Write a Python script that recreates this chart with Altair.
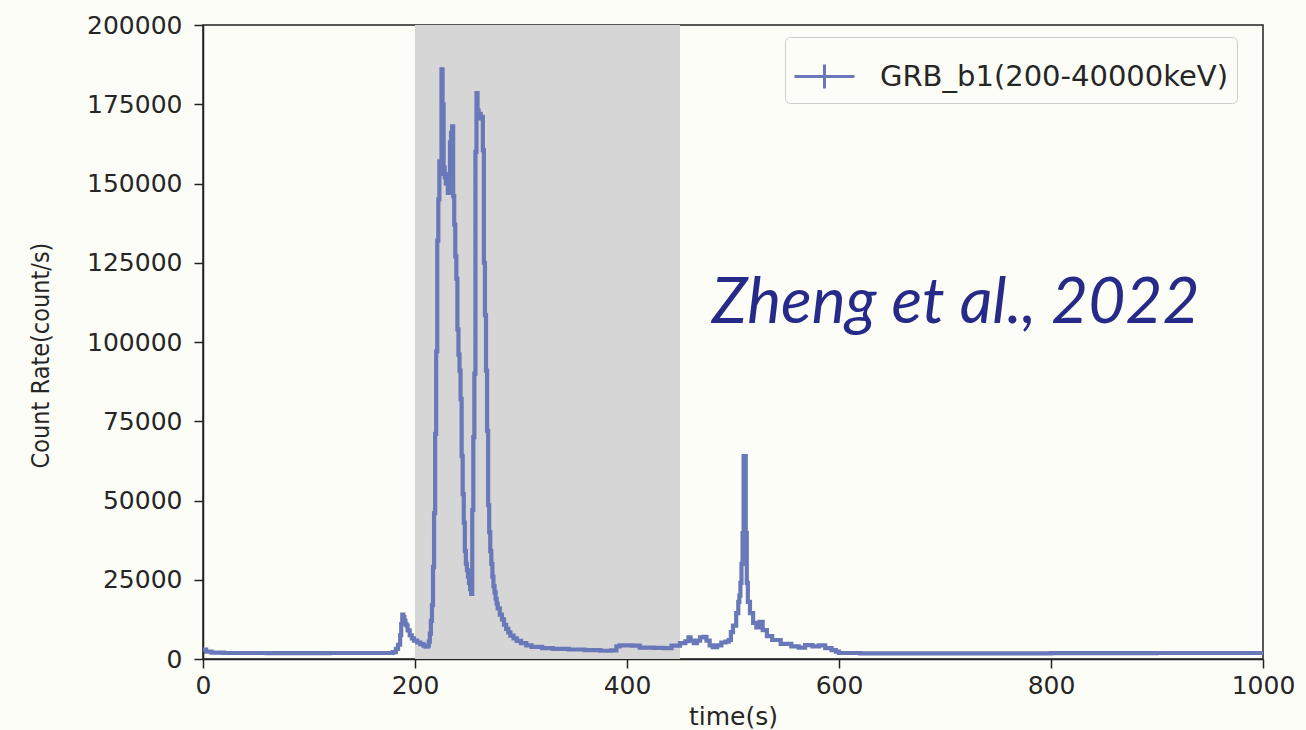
import altair as alt
import pandas as pd

# ---- data ----
times = [0, 3, 8, 20, 60, 120, 175, 179, 182, 184, 186, 187, 188, 189, 190, 191, 192, 193, 195, 197, 199,
         202, 205, 208, 210, 212, 213, 214, 215, 216, 217, 218, 219, 220, 221, 222, 223, 224, 225, 226,
         227, 228, 229, 230, 231, 232, 233, 234, 235, 236, 237, 238, 239, 240, 241, 242, 243, 244, 245,
         246, 247, 248, 249, 250, 251, 252, 253, 254, 255, 256, 257, 258, 259, 260, 261, 262, 263, 264,
         265, 266, 267, 268, 269, 270, 271, 272, 273, 274, 275, 276, 277, 278, 280, 282, 284, 286, 288,
         290, 293, 296, 300, 305, 310, 320, 330, 345, 360, 375, 385, 390, 393, 405, 412, 425, 435, 442,
         450, 455, 458, 460, 463, 466, 469, 472, 475, 478, 481, 485, 489, 493, 496, 498, 500, 503, 505,
         506, 507, 508, 509, 510, 512, 513, 514, 516, 519, 522, 525, 528, 532, 537, 545, 555, 562, 568,
         575, 581, 587, 593, 597, 600, 620, 700, 800, 900, 1000]
rates = [3000, 2300, 2000, 1900, 1850, 1900, 1900, 2200, 3200, 4500, 7500, 11000, 14000, 13200, 12000,
         11000, 10500, 9000, 7500, 6500, 5800,
         5200, 4700, 4200, 3900, 4200, 5500, 8000, 12000, 17000, 29000, 46000, 71000, 97000, 132000,
         145000, 157000, 153000, 186000, 175000,
         155000, 152000, 150000, 153000, 147000, 152000, 163000, 166000, 168000, 146000, 137000, 127000,
         120000, 104000, 96000, 91000, 82000, 64000, 52000,
         43000, 34000, 30000, 28000, 26000, 24000, 22000, 20500, 47000, 70000, 90000, 160000, 178500,
         173000, 171500, 172000, 170500, 171000, 160500,
         125000, 108500, 91000, 72000, 48500, 40000, 34000, 30000, 26000, 23000, 21000, 19000, 17500,
         16000, 14000, 12500, 10800, 9500, 8400,
         7400, 6500, 5700, 5000, 4300, 3800, 3400, 3200, 3000, 2800, 2600, 2700, 4000, 4300, 4200, 3600,
         3500, 3400, 4200,
         5000, 5600, 6800, 5800, 5000, 5800, 6800, 7000, 5800, 4300, 3700, 4300, 5200, 5500, 6000, 8500,
         10500, 14500, 18000,
         20000, 24000, 30000, 39700, 64000, 39700, 24000, 18000, 14500, 11400, 10000, 11700, 9100, 7200,
         6000, 4800, 4000, 3600, 4400,
         4000, 4300, 3400, 2800, 2300, 1900, 1800, 1800, 1850, 1900, 1900]
series_name = "GRB_b1(200-40000keV)"
shade_start = [200]
shade_end = [450]
note_text = ["Zheng et al., 2022"]
note_t = [480]
note_rate = [106000]
x_ticks = [0, 200, 400, 600, 800, 1000]
y_ticks = [0, 25000, 50000, 75000, 100000, 125000, 150000, 175000, 200000]

line_color = "#6878B8"
bg = "#FDFDF7"

df = pd.DataFrame({"t": times, "rate": rates, "series": [series_name] * len(times)})
shade_df = pd.DataFrame({"x0": shade_start, "x1": shade_end})
note_df = pd.DataFrame({"t": note_t, "rate": note_rate, "label": note_text})

xscale = alt.Scale(domain=[0, 1000], nice=False, zero=False)
yscale = alt.Scale(domain=[0, 200000], nice=False)

shade = alt.Chart(shade_df).mark_rect(color="#D6D6D6").encode(
    x=alt.X("x0:Q", scale=xscale),
    x2="x1:Q",
    y=alt.value(0),
    y2=alt.value(634),
)

line = alt.Chart(df).mark_line(interpolate="step-after", strokeWidth=4.2, clip=True).encode(
    x=alt.X("t:Q", scale=xscale,
            axis=alt.Axis(values=x_ticks, title="time(s)", format="d", labelPadding=5,
                          labelFlush=False,
                          titleFontSize=25, titleBaseline="alphabetic", titleY=65)),
    y=alt.Y("rate:Q", scale=yscale,
            axis=alt.Axis(values=y_ticks, title="Count Rate(count/s)", format="d", labelPadding=12,
                          titleFont="'Liberation Sans Narrow', 'DejaVu Sans Condensed', 'Open Sans', sans-serif",
                          titleFontSize=25,
                          titleX=-150, titleY=330)),
    color=alt.Color("series:N", scale=alt.Scale(range=[line_color]),
                    legend=alt.Legend(title=None, orient="none", legendX=582, legendY=12,
                                      padding=8, fillColor=bg, strokeColor="#CCCCCC",
                                      cornerRadius=5,
                                      labelFont="DejaVu Sans", labelFontSize=29, labelColor="#262626",
                                      labelOffset=24, labelLimit=1000,
                                      symbolType="M-1,0L1,0M0,-0.4L0,0.4", symbolSize=3600,
                                      symbolStrokeWidth=3, symbolFillColor="transparent",
                                      symbolStrokeColor=line_color)),
)

note = alt.Chart(note_df).mark_text(align="left", baseline="alphabetic", font="Lato",
                                    fontStyle="italic", fontSize=64, color="#262A88").encode(
    x=alt.X("t:Q", scale=xscale),
    y=alt.Y("rate:Q", scale=yscale),
    text="label:N",
)

chart = alt.layer(shade, line, note).properties(
    width=1060, height=634,
    autosize=alt.AutoSizeParams(type="none"),
    padding={"left": 203, "top": 25, "right": 43, "bottom": 71},
).configure(background=bg).configure_view(
    stroke="#222222", strokeWidth=1.5, fill=bg
).configure_axis(
    grid=False, domainColor="#222222", domainWidth=1.5, tickColor="#222222", tickWidth=1.5,
    tickSize=9, labelFont="DejaVu Sans", labelFontSize=25, labelColor="#262626",
    titleFont="DejaVu Sans", titleFontWeight="normal", titleColor="#262626",
)

chart.save("out.html", embed_options={"renderer": "svg", "actions": False})
